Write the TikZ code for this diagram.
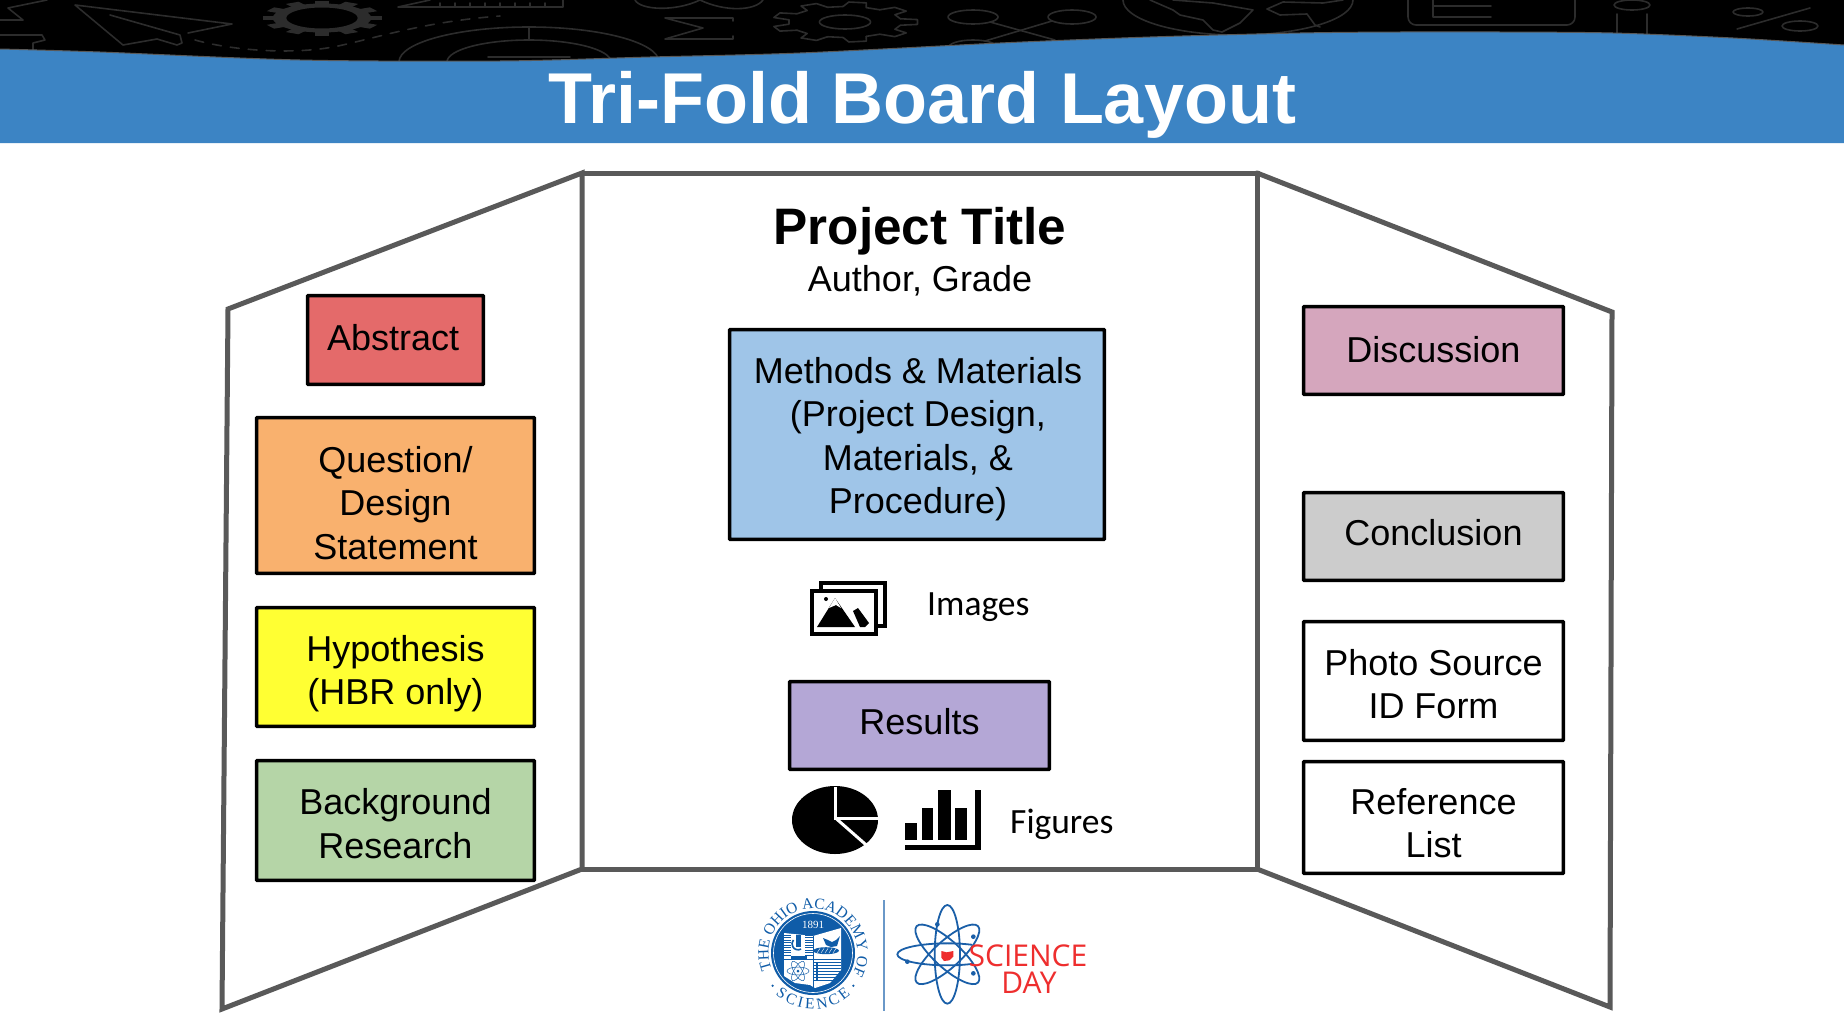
\documentclass[tikz,border=0pt]{standalone}
\usepackage{fontspec}
\setmainfont{Liberation Sans}
\newfontfamily\carlitofont{Carlito}
\newfontfamily\serifseal{Liberation Serif}
\newfontfamily\opensansfont{Open Sans}
\usetikzlibrary{decorations.text}
\definecolor{hdrblue}{HTML}{3C84C4}
\definecolor{doodle}{HTML}{2C2C2C}
\definecolor{boardgrey}{HTML}{595959}
\definecolor{sealblue}{HTML}{0F5CA8}
\definecolor{atomblue}{HTML}{1A5FA8}
\definecolor{sepblue}{HTML}{6A98C8}
\definecolor{sdred}{HTML}{EE2E2E}
\definecolor{cAbstract}{HTML}{E46A6A}
\definecolor{cQuestion}{HTML}{F9B16E}
\definecolor{cHyp}{HTML}{FFFF33}
\definecolor{cBack}{HTML}{B5D5A7}
\definecolor{cMethods}{HTML}{9FC5E8}
\definecolor{cResults}{HTML}{B4A7D6}
\definecolor{cDisc}{HTML}{D5A6BD}
\definecolor{cConc}{HTML}{CCCCCC}
\tikzset{
  doodleline/.style={draw=doodle,line width=1.6pt,line join=round,line cap=round},
  boardline/.style={draw=boardgrey,line width=5pt,line cap=round,line join=miter},
  boxnode/.style={draw=black,line width=3.6pt,rounded corners=0.8pt,inner sep=0pt,outer sep=0pt,anchor=north west},
  boxtext/.style={inner sep=0pt,outer sep=0pt,align=center,anchor=center,font=\fontsize{36}{43.2}\selectfont},
  atomline/.style={draw=atomblue,line width=1.8pt}
}
\newcommand{\bx}[9]{% name, x0,y0,x1,y1, colour, dx, dy, text
  \pgfmathsetmacro{\bw}{#4-#2-1.2}\pgfmathsetmacro{\bh}{#5-#3-1.2}
  \node[boxnode,fill=#6,minimum width=\bw pt,minimum height=\bh pt] (#1) at (#2+0.6,#3+0.6) {};
  \node[boxtext] (#1-text) at ({(#2+#4)/2+#7},{(#3+#5)/2+#8}) {#9};}
\begin{document}
\begin{tikzpicture}[x=1pt,y=-1pt]
\useasboundingbox (0,0) rectangle (1844,1028);
\fill[white] (0,0) rectangle (1844,1028);
% header background
\fill[black] (0,0) rectangle (1844,70);
\begin{scope}
\clip (0,0) rectangle (1844,70);
% zigzags
\draw[doodleline] (47,0) -- (8,8) -- (23,20) -- (0,20);
\draw[doodleline] (0,35) -- (42,35) -- (45,40) -- (33,43) -- (33,50);
% paper plane
\draw[doodleline] (188,33) -- (232,24) -- (75,5) -- (123,45) -- (157,39) -- (177,45) -- (182,43) -- (180,35) -- (110,15);
\draw[doodleline,dash pattern=on 9pt off 9pt] (195,40) .. controls (230,50) and (290,55) .. (333,47) .. controls (370,40) and (420,22) .. (500,16);
% gear 1
\begin{scope}[shift={(322,18)},xscale=3.4]
\fill[doodle,even odd rule] (0,0) ellipse [x radius=14.5,y radius=14.5] (0,0) ellipse [x radius=10.5,y radius=10.5];
\foreach \a in {0,30,...,330}{\fill[doodle,rotate=\a] (-2.2,13) rectangle (2.2,17.5);}
\end{scope}
% ruler
\draw[doodleline] (430,0) -- (398,7) -- (563,7) -- (563,0);
\foreach \t in {440,455,...,550}{\draw[doodleline] (\t,7) -- (\t,3);}
% target
\draw[doodleline] (529,62) ellipse [x radius=130,y radius=35];
\draw[doodleline] (529,62) ellipse [x radius=82,y radius=22];
\draw[doodleline] (529,27) -- (529,40);
\draw[doodleline] (488,57) -- (570,57);
% loops
\draw[doodleline] (635,0) .. controls (640,10) and (675,12) .. (700,0) .. controls (725,12) and (755,11) .. (763,0);
% sigma
\draw[doodleline] (733,21) -- (733,18) -- (665,18) -- (703,28) -- (665,39) -- (733,39) -- (733,36);
% gear 2
\begin{scope}[shift={(845,22)},xscale=3.65]
\foreach \a in {0,40,...,320}{\draw[doodleline,rotate=\a] (-12:15.5) -- (-7:20) -- (7:20) -- (12:15.5) -- (28:15.5);}
\draw[doodleline] (0,0) circle [radius=7];
\end{scope}
% network
\draw[doodleline] (973,17) ellipse [x radius=25,y radius=7];
\draw[doodleline] (1072,17) ellipse [x radius=24,y radius=7];
\draw[doodleline] (973,48) ellipse [x radius=25,y radius=8];
\draw[doodleline] (990,22) -- (1055,40);
\draw[doodleline] (1052,21) -- (985,41);
% globe
\draw[doodleline] (1238,0) ellipse [x radius=115,y radius=35];
\draw[doodleline] (1150,0) -- (1173,10) -- (1180,15) -- (1203,20) -- (1213,30) -- (1222,32) -- (1240,23) -- (1253,10) -- (1213,3) -- (1173,0);
\draw[doodleline] (1320,27) -- (1315,25) -- (1307,14) -- (1280,15) -- (1267,9) -- (1283,2) -- (1323,3) -- (1343,0);
% E box
\draw[doodleline,rounded corners=8pt] (1408,-5) -- (1408,25) -- (1575,25) -- (1575,-5);
\draw[doodleline] (1433,0) -- (1433,17) -- (1491,17);
\draw[doodleline] (1433,6) -- (1491,6);
% i
\draw[doodleline] (1632,5) ellipse [x radius=18,y radius=5];
\draw[doodleline] (1617,14) -- (1617,40);
\draw[doodleline] (1647,14) -- (1647,40);
% percent
\draw[doodleline] (1748,12) ellipse [x radius=15,y radius=4];
\draw[doodleline] (1800,26) ellipse [x radius=18,y radius=5];
\draw[doodleline] (1810,8) -- (1737,29);
\end{scope}
% blue wave
\fill[hdrblue] (0,143) -- plot[smooth,tension=.5] coordinates {(0,49) (100,52) (300,60) (500,61) (650,57) (800,53) (1000,43) (1150,37) (1300,33) (1400,32) (1500,32) (1613,33) (1733,38) (1844,45)} -- (1844,143) -- cycle;
\draw[draw=boardgrey,line width=1pt] plot[smooth,tension=.5] coordinates {(0,49) (100,52) (300,60) (500,61) (650,57) (800,53) (1000,43) (1150,37) (1300,33) (1400,32) (1500,32) (1613,33) (1733,38) (1844,45)};
\node[text=white,font=\bfseries\fontsize{72}{72}\selectfont,anchor=base,inner sep=0pt] (title) at (922,123) {Tri-Fold Board Layout};
% board
\draw[boardline] (222,1009) -- (228,309) -- (582,173) -- (582,869) -- cycle;
\draw[boardline] (582,173) -- (1257,173) -- (1257,869) -- (582,869);
\draw[boardline] (1257,173) -- (1612,312) -- (1610,1007) -- (1257,869);
% centre headings
\node[font=\bfseries\fontsize{51.3}{51.3}\selectfont,anchor=base,inner sep=0pt] (ptitle) at (920,244) {Project Title};
\node[font=\fontsize{36}{36}\selectfont,anchor=base,inner sep=0pt] (author) at (920,291) {Author, Grade};
% boxes
\bx{abstract}{307}{295}{484}{385}{cAbstract}{-2.4}{-2.4}{Abstract}
\bx{question}{256}{417}{535}{574}{cQuestion}{0}{7.5}{Question/\\Design\\Statement}
\bx{hypothesis}{256}{607}{535}{727}{cHyp}{0}{6.8}{Hypothesis\\(HBR only)}
\bx{background}{256}{760}{535}{881}{cBack}{0}{3.2}{Background\\Research}
\bx{methods}{729}{329}{1105}{540}{cMethods}{1}{4.7}{Methods \& Materials\\(Project Design,\\Materials, \&\\Procedure)}
\bx{results}{789}{681}{1050}{770}{cResults}{0}{-3.5}{Results}
\bx{discussion}{1303}{306}{1564}{395}{cDisc}{0}{-1.2}{Discussion}
\bx{conclusion}{1303}{492}{1564}{581}{cConc}{0}{-3.5}{Conclusion}
\bx{photo}{1303}{621}{1564}{741}{white}{0}{3.5}{Photo Source\\ID Form}
\bx{reference}{1303}{761}{1564}{874}{white}{0}{5.7}{Reference\\List}
% images icon
\draw[black,line width=4pt,fill=white] (821,583) rectangle (885,626);
\draw[black,line width=4pt,fill=white] (812,591) rectangle (876,634);
\fill[black] (817,627) -- (835,598) -- (855,627) -- cycle;
\fill[white] (829,608) -- (835,598) -- (841,608) -- (836,605) -- cycle;
\fill[black] (853,611) -- (858,608) -- (869,623) -- (865,627) -- (860,627) -- cycle;
\fill[black] (826,599) circle [radius=2];
\node[font=\carlitofont\fontsize{35.5}{35.5}\selectfont,anchor=base west,inner sep=0pt] (images) at (927,615) {Images};
% pie
\fill[black] (835,820) ellipse [x radius=43,y radius=34];
\draw[white,line width=3pt] (835.5,787) -- (835.5,818) -- (880,818);
\draw[white,line width=3pt] (835.5,818) -- (872,850);
% bars
\fill[black] (905,823) rectangle (917,840);
\fill[black] (922,808) rectangle (933,840);
\fill[black] (938,790) rectangle (951,840);
\fill[black] (955,808) rectangle (967,840);
\fill[black] (905,845) rectangle (981,850);
\fill[black] (975,790) rectangle (981,850);
\node[font=\carlitofont\fontsize{35.5}{35.5}\selectfont,anchor=base west,inner sep=0pt] (figures) at (1010,833) {Figures};
% separator
\coordinate (septop) at (884,900);
\coordinate (sepbot) at (884,1011);
\draw[sepblue,line width=1.6pt] (septop) -- (sepbot);
% seal
\begin{scope}[shift={(813,953)},x=1pt,y=1pt]
\fill[sealblue] (0,0) circle [radius=42];
\draw[white,line width=0.6pt] (0,0) circle [radius=39.5];
\path[decorate,decoration={text along path,text format delimiters={|}{|},text={|\serifseal\fontsize{15.5}{15.5}\selectfont\color{sealblue}|THE OHIO ACADEMY OF},text align={fit to path}}] (202:44.5) arc [start angle=202,end angle=-24,radius=44.5];
\path[decorate,decoration={text along path,text format delimiters={|}{|},text={|\serifseal\fontsize{15.5}{15.5}\selectfont\color{sealblue}|SCIENCE},text align={fit to path}}] (228:56) arc [start angle=228,end angle=312,radius=56];
\fill[sealblue] (219:52) circle [radius=1.3] (321:52) circle [radius=1.3];
\node[text=white,font=\serifseal\fontsize{11}{11}\selectfont,inner sep=0pt] (yr) at (0,28) {1891};
% state shape
\fill[white] (-29,20) -- (0,17) -- (28,25) -- (28,-17) -- (17,-30) -- (2,-35) -- (-3,-32) -- (-18,-30) -- (-29,-23) -- cycle;
\foreach \s in {18,15.5,13,10.5,8,5.5,3,0.5,-2}{\draw[sealblue,line width=0.7pt] (-29,\s) -- (0,\s);}
\foreach \s in {-9,-12,-15,-18,-21,-24,-27}{\draw[sealblue,line width=0.8pt] (1,\s) -- (28,\s);}
% bird and leaf
\fill[sealblue] (10,15) -- (15,13) -- (19,11) -- (23,13) -- (27,17) -- (24,7) -- (18,6) -- (13,8) -- cycle;
\fill[sealblue] (13,2.3) ellipse [x radius=13,y radius=3.5];
\foreach \s in {4,8,...,22}{\draw[white,line width=0.4pt] (\s,0) -- (\s+3,4.6);}
% microscope
\fill[white] (-22,18.5) rectangle (-8,-4);
\fill[sealblue] (-17,18) rectangle (-12,6);
\draw[sealblue,line width=1.6pt] (-12,4) arc [start angle=-60,end angle=-220,radius=6];
\fill[sealblue] (-22,-3) rectangle (-6,-6);
\draw[sealblue,line width=1pt] (-29,-6) -- (28,-6);
\draw[sealblue,line width=1pt] (0,17) -- (0,-35);
\foreach \r in {0,60,120}{\draw[sealblue,line width=0.5pt,rotate around={\r:(-15,-18)}] (-15,-18) ellipse [x radius=11,y radius=4];}
\fill[sealblue] (-15,-18) circle [radius=1.5];
\fill[sealblue] (3,-10) rectangle (5,-28);
\end{scope}
% atom
\begin{scope}[shift={(890,895)},x=0.33333pt,y=-0.33333pt]
\draw[atomline] (172,178) ellipse [x radius=38,y radius=148];
\draw[atomline,rotate around={42.5:(172,178)}] (172,178) ellipse [x radius=125,y radius=40];
\draw[atomline,rotate around={-42.5:(172,178)}] (172,178) ellipse [x radius=125,y radius=40];
\begin{scope}
\clip (0,0) rectangle (246,360);
\draw[atomline] (172,178) ellipse [x radius=150,y radius=33];
\end{scope}
\fill[atomblue] (142,88) circle [radius=7] (250,125) circle [radius=7] (52,200) circle [radius=7] (250,235) circle [radius=7];
\fill[sdred] (154,168) -- (170,172) -- (190,168) -- (190,185) -- (178,196) -- (162,198) -- (154,188) -- cycle;
\end{scope}
\node[text=sdred,font=\opensansfont\fontsize{30}{30}\selectfont,anchor=base,inner sep=0pt] (sci) at (1028,966) {SCIENCE};
\node[text=sdred,font=\opensansfont\fontsize{30}{30}\selectfont,anchor=base,inner sep=0pt] (day) at (1029,993) {DAY};
\end{tikzpicture}
\end{document}
